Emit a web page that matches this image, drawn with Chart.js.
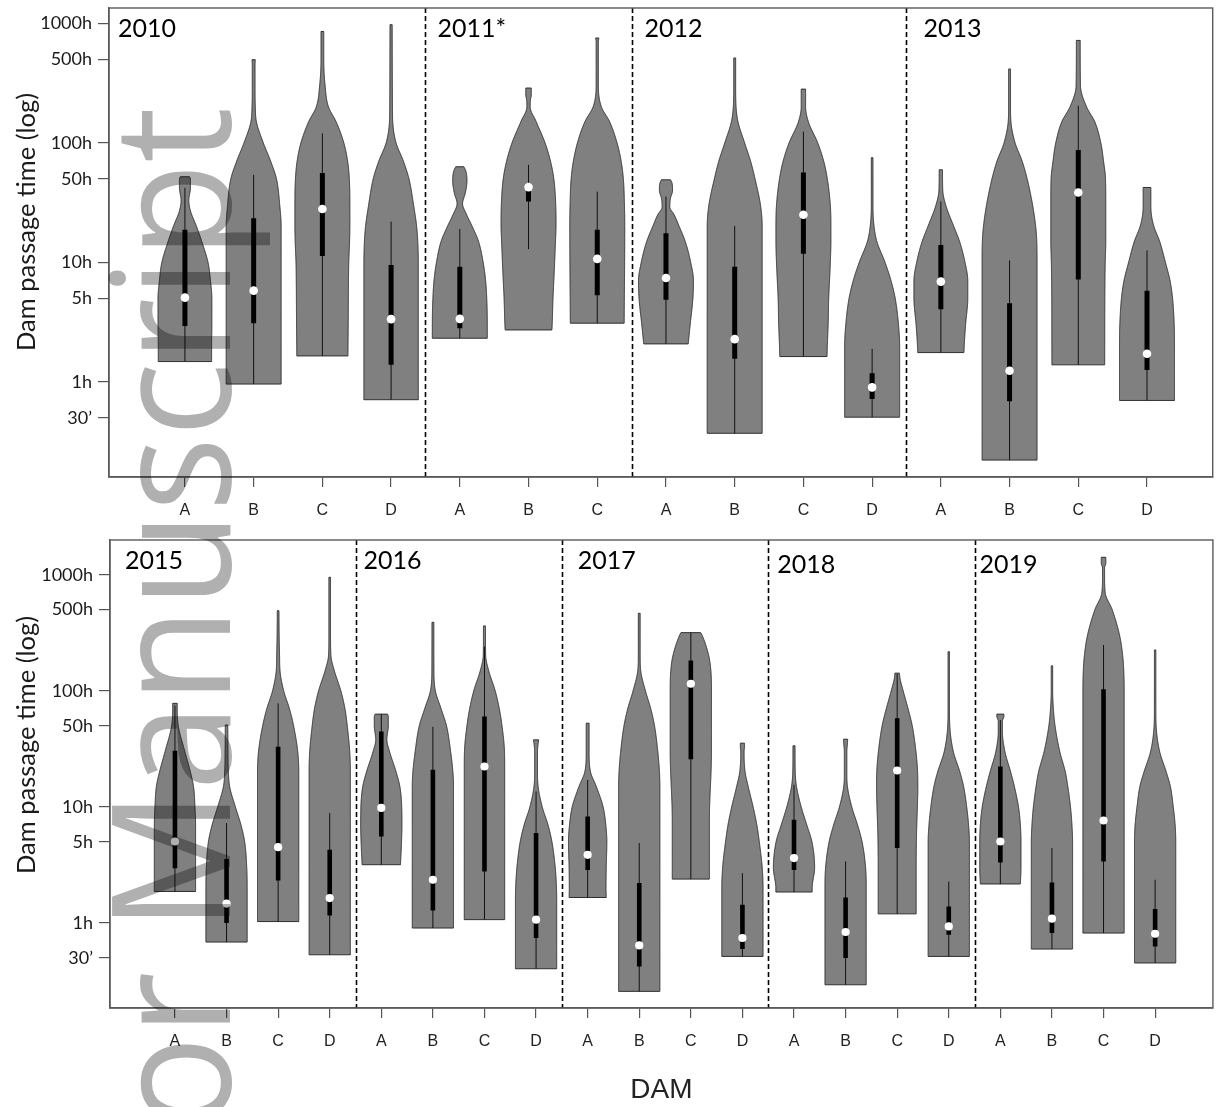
<!DOCTYPE html>
<html>
<head>
<meta charset="utf-8">
<script src="https://cdn.jsdelivr.net/npm/chart.js@4.4.1/dist/chart.umd.min.js"></script>
<style>
  html, body { margin: 0; padding: 0; background: #fff; }
  #wrap { position: relative; width: 1217px; height: 1107px; overflow: hidden; background: #fff; }
  #topChart { position: absolute; left: 0; top: 0; }
  #botChart { position: absolute; left: 0; top: 530px; }
  #stamp { position: absolute; left: 0; top: 0; mix-blend-mode: multiply; pointer-events: none; }
</style>
</head>
<body>
<div id="wrap">
  <canvas id="topChart" width="1217" height="530"></canvas>
  <canvas id="botChart" width="1217" height="577"></canvas>
  <canvas id="stamp" width="1217" height="1107"></canvas>
</div>
<script>
// ---------- y axis ticks (hours, log scale) ----------
const tickHours = [0.5, 1, 5, 10, 50, 100, 500, 1000];
const tickText  = ['30’', '1h', '5h', '10h', '50h', '100h', '500h', '1000h'];

// ---------- upper panel: 2010 – 2013 ----------
const topYears   = ['2010', '2011*', '2012', '2013'];
const topCounts  = [4, 3, 4, 4];
const topDams    = ['A','B','C','D', 'A','B','C', 'A','B','C','D', 'A','B','C','D'];
const topQ1      = [2.94, 3.1, 11.3, 1.39, 2.81, 32.3, 5.3, 4.86, 1.56, 11.8, 0.72, 4.06, 0.69, 7.2, 1.26];
const topMedian  = [5.07, 5.8, 27.9, 3.35, 3.37, 42.6, 10.7, 7.4, 2.28, 25, 0.90, 6.9, 1.24, 38.4, 1.72];
const topQ3      = [18.7, 23.4, 55.8, 9.5, 9.2, 46, 18.7, 17.5, 9.2, 56.4, 1.18, 14, 4.56, 87, 5.8];
const topWhiskLo = [1.48, 0.96, 1.65, 0.71, 2.32, 12.9, 3.1, 2.08, 0.372, 1.63, 0.507, 1.76, 0.222, 1.39, 0.70];
const topWhiskHi = [42, 54, 120, 21.9, 19, 65.4, 39, 35.5, 20.2, 124, 1.89, 32.3, 10.4, 204, 12.6];
// density outline of each violin: [hours, relative half-width], from minimum to maximum
const topShapes = [
  [[1.48,.97],[2,.97],[3,.98],[5,.98],[7,.93],[10,.84],[15,.61],[20,.42],[27,.2],[33,.14],[42,.2],[50,.2],[52,.17]],
  [[0.96,1],[20,1],[30,.95],[50,.83],[70,.62],[100,.35],[150,.1],[200,.06],[300,.05],[450,.05],[495,.06]],
  [[1.65,.93],[3,.94],[7,.95],[10,.96],[15,.99],[20,1],[30,1],[50,.98],[70,.92],[100,.78],[150,.5],[200,.22],[300,.1],[500,.05],[853,.05]],
  [[0.71,.99],[10,.99],[15,.97],[20,.93],[30,.82],[50,.65],[70,.45],[100,.18],[150,.06],[200,.05],[971,.04]],
  [[2.32,1],[3,1],[5,.98],[7,.94],[10,.85],[15,.68],[20,.45],[25,.25],[31,.1],[38,.2],[48,.26],[58,.22],[63,.15]],
  [[2.72,.85],[3,.86],[5,.89],[7,.92],[10,.95],[15,.98],[20,1],[30,.99],[50,.92],[70,.8],[100,.6],[150,.28],[200,.06],[230,.07],[250,.1],[287,.1]],
  [[3.1,.98],[20,1],[30,.99],[50,.95],[70,.87],[100,.72],[150,.45],[200,.15],[300,.04],[700,.04],[752,.06]],
  [[2.08,.81],[3,.88],[5,.98],[7,1],[10,.9],[15,.7],[20,.48],[25,.3],[29,.14],[34,.16],[40,.24],[46,.22],[49,.17]],
  [[0.372,1],[20,1],[30,.94],[50,.74],[70,.58],[100,.36],[150,.12],[200,.05],[300,.035],[512,.035]],
  [[1.63,.86],[2,.87],[3,.9],[5,.92],[7,.95],[10,.98],[15,1],[20,1],[30,.98],[50,.87],[70,.74],[100,.52],[150,.18],[200,.08],[281,.08]],
  [[0.507,1],[2,1],[3,.96],[5,.84],[7,.69],[10,.47],[15,.17],[20,.07],[30,.03],[75,.03]],
  [[1.76,.84],[2,.85],[3,.9],[5,.98],[7,.98],[10,.88],[15,.68],[20,.47],[30,.18],[40,.07],[59.4,.06]],
  [[0.222,1],[10,1],[15,.99],[20,.95],[30,.84],[50,.64],[70,.46],[100,.2],[150,.05],[200,.035],[414,.035]],
  [[1.39,.96],[7,.97],[10,.98],[15,1],[30,1],[50,.99],[70,.92],[100,.82],[150,.6],[200,.3],[300,.08],[700,.07],[718,.07]],
  [[0.70,1],[2,1],[3,.99],[5,.93],[7,.84],[10,.67],[15,.46],[20,.25],[25,.16],[30,.14],[42.3,.14]]
];

// ---------- lower panel: 2015 – 2019 ----------
const botYears   = ['2015', '2016', '2017', '2018', '2019'];
const botCounts  = [4, 4, 4, 4, 4];
const botDams    = ['A','B','C','D', 'A','B','C','D', 'A','B','C','D', 'A','B','C','D', 'A','B','C','D'];
const botQ1      = [2.97, 1.0, 2.33, 1.16, 5.56, 1.28, 2.78, 0.743, 2.87, 0.423, 25.8, 0.597, 2.87, 0.5, 4.42, 0.793, 3.32, 0.82, 3.39, 0.629];
const botMedian  = [5.04, 1.47, 4.5, 1.64, 9.8, 2.36, 22.3, 1.07, 3.87, 0.641, 115, 0.743, 3.63, 0.837, 20.6, 0.935, 5.04, 1.09, 7.64, 0.809];
const botQ3      = [30.4, 3.56, 33, 4.27, 44.6, 20.9, 60, 5.95, 8.27, 2.21, 182, 1.44, 7.74, 1.66, 58, 1.39, 22.3, 2.24, 103, 1.32];
const botWhiskLo = [1.87, 0.686, 1.03, 0.533, 3.18, 0.906, 1.07, 0.404, 1.66, 0.258, 2.39, 0.516, 1.85, 0.294, 1.2, 0.516, 2.17, 0.597, 0.82, 0.453];
const botWhiskHi = [75, 7.26, 78, 8.85, 63, 49, 240, 13.6, 17.1, 4.88, 317, 2.69, 15.5, 3.39, 140, 2.28, 56, 4.42, 248, 2.36];
const botShapes = [
  [[1.87,1],[7,1],[10,.97],[15,.9],[20,.75],[30,.48],[50,.16],[70,.11],[78,.11]],
  [[0.686,1],[2,1],[3,.98],[5,.88],[7,.7],[10,.43],[15,.15],[20,.09],[30,.07],[50.8,.06]],
  [[1.03,1],[20,1],[30,.95],[50,.75],[70,.55],[100,.27],[150,.09],[200,.07],[300,.05],[490,.04]],
  [[0.533,1],[20,1],[30,.97],[50,.85],[70,.74],[100,.54],[150,.22],[200,.06],[300,.04],[950,.04]],
  [[3.18,.93],[5,.98],[7,1],[10,.99],[15,.9],[20,.72],[30,.4],[38,.27],[50,.34],[60,.34],[63,.3]],
  [[0.906,1],[15,1],[20,.97],[30,.86],[50,.66],[70,.4],[100,.12],[150,.05],[389,.045]],
  [[1.07,.98],[20,.98],[30,.97],[50,.85],[70,.72],[100,.52],[150,.2],[200,.06],[300,.05],[362,.05]],
  [[0.404,1],[1.5,1],[2,.99],[3,.93],[5,.77],[7,.58],[10,.3],[15,.1],[20,.07],[30,.07],[35,.1],[37.8,.13]],
  [[1.66,.9],[2,.89],[3,.9],[5,.93],[7,.88],[10,.75],[15,.42],[20,.14],[30,.07],[52.6,.07]],
  [[0.258,1],[15,1],[20,.98],[30,.9],[50,.74],[70,.56],[100,.3],[150,.07],[200,.045],[465,.045]],
  [[2.39,.9],[7,.9],[10,.91],[15,.95],[20,.98],[30,1],[100,1],[150,.97],[200,.87],[300,.55],[317,.48]],
  [[0.516,1],[2,1],[3,.96],[5,.82],[7,.7],[10,.52],[15,.28],[20,.13],[30,.08],[33,.1],[35.4,.1]],
  [[1.85,.88],[2,.88],[3,1],[5,.87],[7,.62],[10,.35],[15,.12],[20,.06],[33.6,.05]],
  [[0.294,1],[2,1],[3,.97],[5,.8],[7,.58],[10,.3],[15,.09],[20,.06],[30,.06],[35,.09],[38.3,.1]],
  [[1.2,.92],[3,.92],[5,.93],[7,.95],[10,.98],[15,1],[20,.99],[30,.91],[50,.73],[70,.53],[100,.29],[130,.13],[142,.11]],
  [[0.516,1],[5,1],[7,.96],[10,.87],[15,.72],[20,.54],[30,.22],[50,.05],[70,.035],[217,.035]],
  [[2.17,.97],[3,1],[5,1],[7,.97],[10,.88],[15,.68],[20,.5],[30,.22],[45,.1],[55,.1],[60,.17],[63,.17]],
  [[0.597,1],[5,1],[7,.97],[10,.9],[15,.77],[20,.65],[30,.38],[50,.15],[70,.07],[100,.035],[164,.035]],
  [[0.82,1],[100,1],[150,.98],[200,.93],[300,.78],[500,.42],[700,.08],[1000,.05],[1150,.05],[1250,.11],[1413,.11]],
  [[0.453,1],[5,1],[7,.97],[10,.88],[15,.74],[20,.54],[30,.22],[50,.05],[70,.035],[225,.035]]
];

// ---------- layout and style of each panel ----------
const topLayout = {
  xMin: -0.105, xMax: 15.956, yMin: 0.1603, yMax: 1340,
  padTop: 8, axisW: 109, axisH: 53, yearDx: [9, 12, 13, 17], yearDy: [0, 0, 0, 0],
  titleY: 222, barW: 5, dotR: 4.3, showDam: false
};
const botLayout = {
  xMin: -0.259, xMax: 21.12, yMin: 0.1855, yMax: 1990,
  padTop: 10, axisW: 110, axisH: 99, yearDx: [15, 8, 16, 9, 5], yearDy: [0, 0, 0, 4, 4],
  titleY: 215, barW: 4.6, dotR: 4.1, showDam: true
};
const HALF_WIDTH = 0.4;   // widest half-width of a violin, in category units

// monotone cubic (Fritsch–Carlson) through the outline samples
function monotoneFn(xs, ys) {
  const n = xs.length;
  if (n === 1) return () => ys[0];
  const d = [];
  for (let i = 0; i < n - 1; i++) d.push((ys[i + 1] - ys[i]) / (xs[i + 1] - xs[i]));
  const m = new Array(n);
  m[0] = d[0]; m[n - 1] = d[n - 2];
  for (let i = 1; i < n - 1; i++) m[i] = d[i - 1] * d[i] <= 0 ? 0 : (d[i - 1] + d[i]) / 2;
  for (let i = 0; i < n - 1; i++) {
    if (d[i] === 0) { m[i] = 0; m[i + 1] = 0; continue; }
    const a = m[i] / d[i], b = m[i + 1] / d[i], s = a * a + b * b;
    if (s > 9) { const t = 3 / Math.sqrt(s); m[i] = t * a * d[i]; m[i + 1] = t * b * d[i]; }
  }
  return x => {
    let i = 0;
    while (i < n - 2 && x > xs[i + 1]) i++;
    const h = xs[i + 1] - xs[i];
    const t = Math.min(1, Math.max(0, (x - xs[i]) / h));
    const t2 = t * t, t3 = t2 * t;
    return (2 * t3 - 3 * t2 + 1) * ys[i] + (t3 - 2 * t2 + t) * h * m[i] +
           (-2 * t3 + 3 * t2) * ys[i + 1] + (t3 - t2) * h * m[i + 1];
  };
}

// violin bodies, drawn through the chart's own scales
const violinBodies = {
  id: 'violinBodies',
  beforeDatasetsDraw(chart, args, opts) {
    const { ctx, scales: { x, y } } = chart;
    ctx.save();
    opts.shapes.forEach((shape, i) => {
      const pos = i + 1;
      const ts = shape.map(p => Math.log10(p[0]));
      const ws = shape.map(p => p[1]);
      const f = monotoneFn(ts, ws);
      const t0 = ts[0], t1 = ts[ts.length - 1];
      const span = y.getPixelForValue(shape[0][0]) - y.getPixelForValue(shape[shape.length - 1][0]);
      const steps = Math.max(40, Math.ceil(span * 1.5));
      const left = [], right = [];
      for (let k = 0; k <= steps; k++) {
        const t = t0 + (t1 - t0) * k / steps;
        const w = Math.max(0.03, f(t)) * HALF_WIDTH;
        const py = y.getPixelForValue(Math.pow(10, t));
        left.push([x.getPixelForValue(pos - w), py]);
        right.push([x.getPixelForValue(pos + w), py]);
      }
      ctx.beginPath();
      ctx.moveTo(left[0][0], left[0][1]);
      for (let k = 1; k < left.length; k++) ctx.lineTo(left[k][0], left[k][1]);
      for (let k = right.length - 1; k >= 0; k--) ctx.lineTo(right[k][0], right[k][1]);
      ctx.closePath();
      ctx.fillStyle = '#808080';
      ctx.fill();
      ctx.lineWidth = 1;
      ctx.strokeStyle = '#303030';
      ctx.lineJoin = 'round';
      ctx.stroke();
    });
    ctx.restore();
  }
};

// frame, year separators, year labels and the y title
const panelFrame = {
  id: 'panelFrame',
  beforeDatasetsDraw(chart, args, opts) {
    const { ctx, chartArea: a, scales: { x } } = chart;
    ctx.save();
    ctx.strokeStyle = '#000';
    ctx.lineWidth = 1.6;
    ctx.setLineDash([5, 3]);
    opts.seps.forEach(s => {
      const px = Math.round(x.getPixelForValue(s)) + 0.5;
      ctx.beginPath();
      ctx.moveTo(px, a.top);
      ctx.lineTo(px, a.bottom);
      ctx.stroke();
    });
    ctx.restore();
  },
  afterDraw(chart, args, opts) {
    const { ctx, chartArea: a, scales: { x } } = chart;
    ctx.save();
    ctx.strokeStyle = '#5a5a5a';
    ctx.lineWidth = 1.4;
    ctx.strokeRect(a.left, a.top, a.right - a.left, a.bottom - a.top);

    ctx.fillStyle = '#000';
    ctx.font = '25px Lato, "Open Sans", sans-serif';
    ctx.textAlign = 'left';
    ctx.textBaseline = 'alphabetic';
    opts.years.forEach((yr, j) => {
      const base = j === 0 ? a.left : x.getPixelForValue(opts.seps[j - 1]);
      ctx.fillText(yr, base + opts.yearDx[j], a.top + 29 + opts.yearDy[j]);
    });

    ctx.translate(27, opts.titleY);
    ctx.rotate(-Math.PI / 2);
    ctx.font = '25.5px Lato, "Open Sans", sans-serif';
    ctx.fillStyle = '#1a1a1a';
    ctx.textAlign = 'center';
    ctx.textBaseline = 'middle';
    ctx.fillText('Dam passage time (log)', 0, 0);
    ctx.restore();
  }
};

function buildPanel(canvasId, dams, years, counts, q1, med, q3, lo, hi, shapes, L) {
  const pos = dams.map((_, i) => i + 1);
  const seps = [];
  let c = 0;
  counts.forEach((k, j) => { if (j > 0) seps.push(c + 0.5); c += k; });

  const medianPts  = pos.map((p, i) => ({ x: p, y: med[i] }));
  const boxPts     = pos.flatMap((p, i) => [{ x: p, y: q1[i] }, { x: p, y: q3[i] }, { x: p, y: null }]);
  const whiskerPts = pos.flatMap((p, i) => [{ x: p, y: lo[i] }, { x: p, y: hi[i] }, { x: p, y: null }]);

  return new Chart(document.getElementById(canvasId), {
    type: 'scatter',
    data: {
      datasets: [
        { label: 'median', data: medianPts, pointRadius: L.dotR, pointHoverRadius: L.dotR,
          pointBackgroundColor: '#ffffff', pointBorderWidth: 0, showLine: false },
        { label: 'IQR', data: boxPts, showLine: true, spanGaps: false, pointRadius: 0,
          borderColor: '#000', borderWidth: L.barW, borderCapStyle: 'butt' },
        { label: 'whisker', data: whiskerPts, showLine: true, spanGaps: false, pointRadius: 0,
          borderColor: '#111', borderWidth: 1, borderCapStyle: 'butt' }
      ]
    },
    options: {
      responsive: false,
      animation: false,
      events: [],
      layout: { padding: { top: L.padTop, right: 3, bottom: 0, left: 0 } },
      plugins: {
        legend: { display: false },
        tooltip: { enabled: false },
        violinBodies: { shapes },
        panelFrame: { seps, years, yearDx: L.yearDx, yearDy: L.yearDy, titleY: L.titleY }
      },
      scales: {
        x: {
          type: 'linear', min: L.xMin, max: L.xMax, bounds: 'data',
          afterBuildTicks: s => { s.ticks = pos.map(v => ({ value: v })); },
          afterFit: s => { s.height = L.axisH; s.paddingLeft = 0; s.paddingRight = 0; },
          ticks: {
            autoSkip: false, maxRotation: 0, padding: 14, color: '#222',
            font: { family: '"Liberation Sans", Arial, sans-serif', size: 16 },
            callback: (v, i) => dams[i]
          },
          grid: { drawOnChartArea: false, drawTicks: true, tickLength: 10, color: '#555', lineWidth: 1.2 },
          border: { display: true, color: '#5a5a5a', width: 1.4 },
          title: {
            display: L.showDam, text: 'DAM', color: '#222',
            font: { family: '"Liberation Sans", Arial, sans-serif', size: 28 },
            padding: { top: 0, bottom: 0 }
          }
        },
        y: {
          type: 'logarithmic', min: L.yMin, max: L.yMax, bounds: 'data',
          afterBuildTicks: s => { s.ticks = tickHours.map(v => ({ value: v })); },
          afterFit: s => { s.width = L.axisW; s.paddingTop = 0; s.paddingBottom = 0; },
          ticks: {
            autoSkip: false, padding: 6, color: '#1a1a1a',
            font: { family: 'Lato, "Open Sans", sans-serif', size: 18 },
            callback: (v, i) => tickText[i]
          },
          grid: { drawOnChartArea: false, drawTicks: true, tickLength: 11, color: '#555', lineWidth: 1.2 },
          border: { display: true, color: '#5a5a5a', width: 1.4 }
        }
      }
    },
    plugins: [violinBodies, panelFrame]
  });
}

buildPanel('topChart', topDams, topYears, topCounts, topQ1, topMedian, topQ3, topWhiskLo, topWhiskHi, topShapes, topLayout);
buildPanel('botChart', botDams, botYears, botCounts, botQ1, botMedian, botQ3, botWhiskLo, botWhiskHi, botShapes, botLayout);

// vertical repository stamp across the left side of the page
(function drawStamp() {
  const g = document.getElementById('stamp').getContext('2d');
  const text = 'Author Manuscript';
  g.font = '165px "Open Sans", "Noto Sans", sans-serif';
  const shown = g.measureText('or Manuscript').width;
  const k = 1023 / shown;
  g.save();
  g.translate(230, 107);
  g.rotate(-Math.PI / 2);
  g.scale(k, 1);
  g.fillStyle = '#b0b0b0';
  g.textAlign = 'right';
  g.textBaseline = 'alphabetic';
  g.fillText(text, 0, 0);
  g.restore();
})();
</script>
</body>
</html>
